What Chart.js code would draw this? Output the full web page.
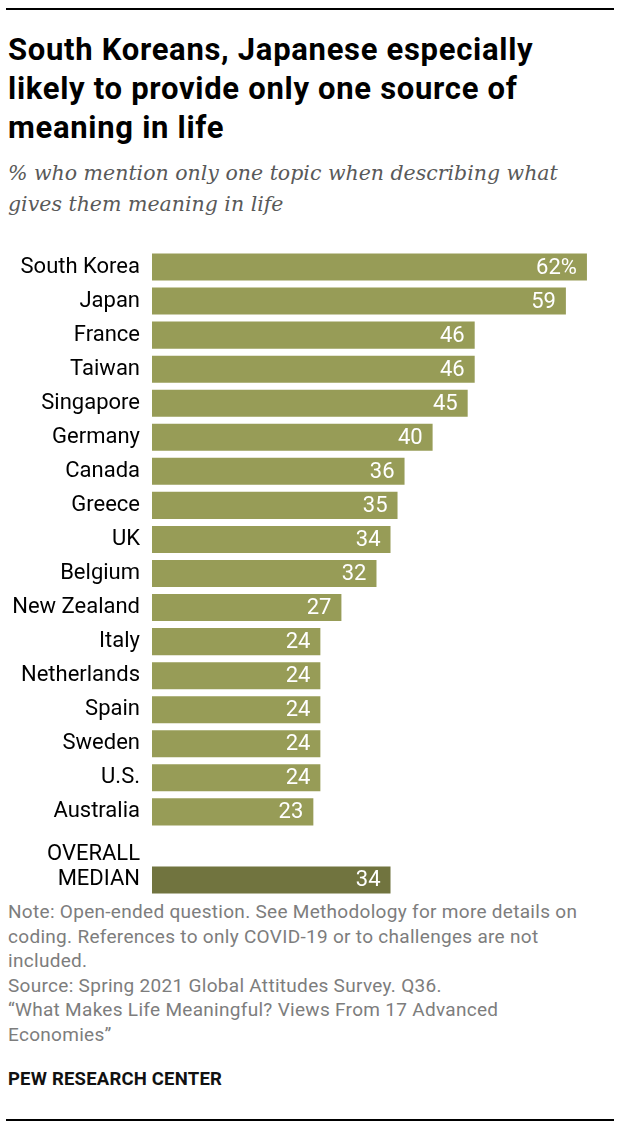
<!DOCTYPE html>
<html>
<head>
<meta charset="utf-8">
<script src="https://cdn.jsdelivr.net/npm/chart.js@4"></script>
<style>
  html, body { margin: 0; padding: 0; background: #fff; }
  body { width: 620px; height: 1128px; position: relative; overflow: hidden; }
  .rule { position: absolute; left: 6px; width: 608px; height: 2px; background: #000; }
  #title { position: absolute; left: 8px; top: 30px; margin: 0; width: 610px; white-space: nowrap;
    font-family: "Roboto", sans-serif; font-weight: bold; letter-spacing: 0.7px;
    font-size: 31px; line-height: 39px; color: #000; }
  #subtitle { position: absolute; left: 8px; top: 158px; margin: 0; width: 610px; white-space: nowrap;
    font-family: "DejaVu Serif", serif; font-style: italic; font-size: 20.5px;
    line-height: 31px; color: #595959; }
  #chartBox { position: absolute; left: 0; top: 250px; width: 620px; height: 647px; }
  #notes { position: absolute; left: 8px; top: 900px; width: 610px; white-space: nowrap;
    font-family: "Roboto", sans-serif; font-size: 19px; letter-spacing: 0.3px;
    line-height: 24.5px; color: #7d7d7d; }
  #pew { position: absolute; left: 8px; top: 1068px;
    font-family: "Roboto", sans-serif; font-weight: bold; letter-spacing: 0.2px;
    font-size: 18.5px; color: #111; }
</style>
</head>
<body>
<div class="rule" style="top:8px"></div>
<h1 id="title">South Koreans, Japanese especially<br>likely to provide only one source of<br>meaning in life</h1>
<p id="subtitle">% who mention only one topic when describing what<br>gives them meaning in life</p>
<div id="chartBox"><canvas id="chart"></canvas></div>
<div id="notes">Note: Open-ended question. See Methodology for more details on<br>coding. References to only COVID-19 or to challenges are not<br>included.<br>Source: Spring 2021 Global Attitudes Survey. Q36.<br>“What Makes Life Meaningful? Views From 17 Advanced<br>Economies”</div>
<div id="pew">PEW RESEARCH CENTER</div>
<div class="rule" style="top:1119px"></div>

<script>
// datos
const countries = ['South Korea', 'Japan', 'France', 'Taiwan', 'Singapore', 'Germany', 'Canada',
  'Greece', 'UK', 'Belgium', 'New Zealand', 'Italy', 'Netherlands', 'Spain', 'Sweden', 'U.S.',
  'Australia', '', 'OVERALL MEDIAN'];
const shares = [62, 59, 46, 46, 45, 40, 36, 35, 34, 32, 27, 24, 24, 24, 24, 24, 23, null, 34];
const medianIndex = 18;

const barColor = '#979c57';
const medianColor = '#71743f';
const labelFont = '"Roboto", sans-serif';

// etiquetas blancas dentro de cada barra
const valueLabels = {
  id: 'valueLabels',
  afterDatasetsDraw(chart) {
    const c = chart.ctx;
    const meta = chart.getDatasetMeta(0);
    c.save();
    c.fillStyle = '#fff';
    c.font = '22px ' + labelFont;
    c.textAlign = 'right';
    c.textBaseline = 'middle';
    meta.data.forEach((bar, i) => {
      const v = shares[i];
      if (v === null) return;
      const txt = i === 0 ? v + '%' : String(v);
      c.fillText(txt, bar.x - 10, bar.y + 1);
    });
    c.restore();
  }
};

const ctx = document.getElementById('chart').getContext('2d');
const chart = new Chart(ctx, {
  type: 'bar',
  data: {
    labels: countries,
    datasets: [{
      data: shares,
      backgroundColor: shares.map((v, i) => i === medianIndex ? medianColor : barColor),
      categoryPercentage: 1,
      barPercentage: 27 / 34,
      borderWidth: 0
    }]
  },
  options: {
    indexAxis: 'y',
    responsive: true,
    maintainAspectRatio: false,
    animation: false,
    layout: { padding: { right: 5 } },
    plugins: { legend: { display: false }, tooltip: { enabled: false } },
    scales: {
      x: { display: false, min: 0, max: 66 },
      y: {
        grid: { display: false, drawTicks: false },
        border: { display: false },
        afterFit(scale) {
          scale.width = 152;
          scale.paddingTop = 0;
          scale.paddingBottom = 0;
        },
        ticks: {
          autoSkip: false,
          padding: 12,
          color: '#000',
          font: { family: labelFont, size: 22, lineHeight: 1.15 },
          callback(value, i) {
            return i === medianIndex ? ['OVERALL', 'MEDIAN', ''] : countries[i];
          }
        }
      }
    }
  },
  plugins: [valueLabels]
});
</script>
</body>
</html>
